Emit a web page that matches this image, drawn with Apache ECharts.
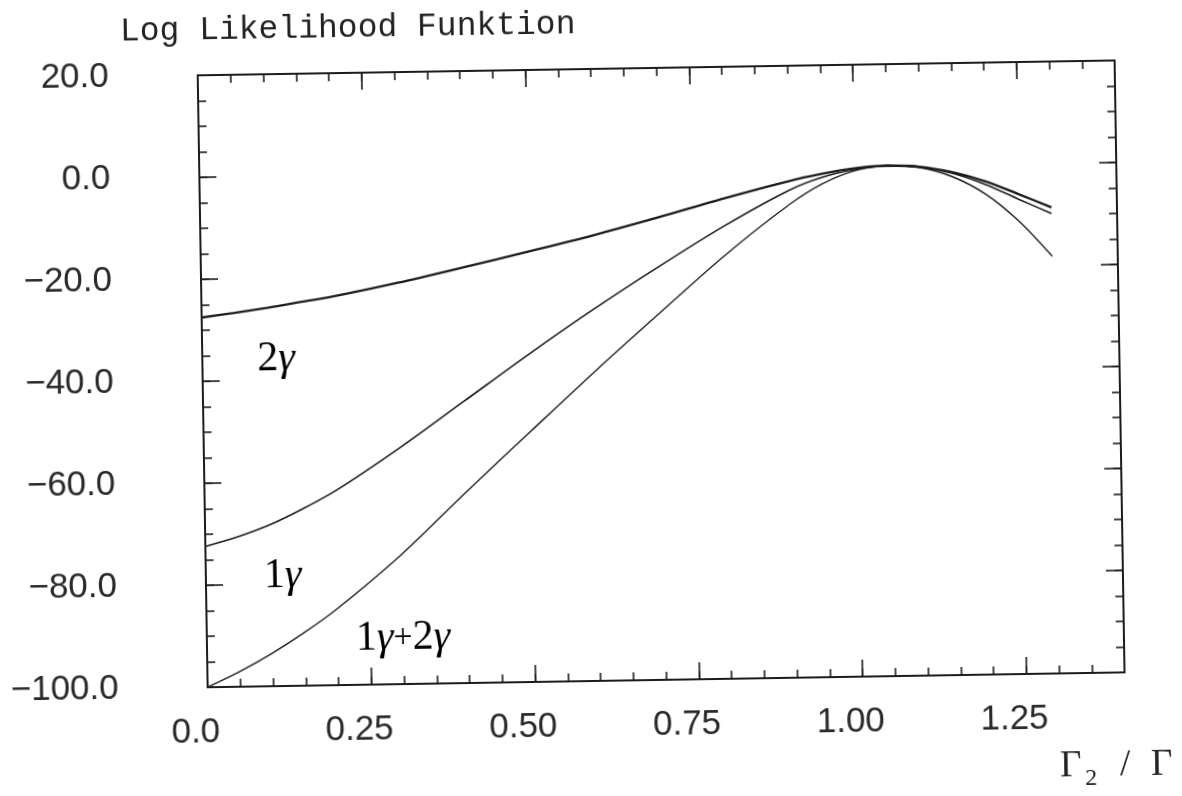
<!DOCTYPE html>
<html>
<head>
<meta charset="utf-8">
<script src="https://cdn.jsdelivr.net/npm/echarts@6/dist/echarts.min.js"></script>
<style>
html,body{margin:0;padding:0;background:#fff;overflow:hidden;}
#chart{width:1182px;height:796px;transform:rotate(-0.93deg);transform-origin:591px 398px;}
</style>
</head>
<body>
<div id="chart"></div>
<script>
// ---- data ----
const xValues = [0, 0.05, 0.1, 0.15, 0.2, 0.3, 0.4, 0.5, 0.6, 0.7, 0.8, 0.9, 0.95, 1.0, 1.05, 1.1, 1.15, 1.2, 1.25, 1.3];
const ll2gamma   = [-27.5, -26.7, -25.8, -24.8, -23.8, -21.3, -18.5, -15.6, -12.6, -9.3, -5.8, -2.6, -1.3, -0.3, 0.1, -0.2, -1.4, -3.3, -5.9, -8.6];
const ll1gamma   = [-72.4, -70.6, -68.3, -65.3, -61.9, -53.6, -44.6, -35.6, -27.0, -18.9, -11.2, -4.4, -2.0, -0.6, 0.1, -0.3, -1.6, -3.9, -6.9, -9.8];
const ll1p2gamma = [-100, -97.0, -93.5, -89.5, -85.0, -74.5, -62.5, -50.8, -39.2, -28.0, -17.0, -7.2, -3.3, -0.8, 0.1, -0.4, -2.3, -5.8, -11.2, -18.2];
const seriesNames = ['2γ', '1γ', '1γ+2γ'];
const xTickLabels = ['0.0', '0.25', '0.50', '0.75', '1.00', '1.25'];
const yTickLabels = ['\u2212100.0', '\u221280.0', '\u221260.0', '\u221240.0', '\u221220.0', '0.0', '20.0'];
const xMin = 0, xMax = 1.4, xMajor = 0.25, xMinor = 0.05;
const yMin = -100, yMax = 20, yMajor = 20, yMinor = 5;

// ---- chart ----
const chart = echarts.init(document.getElementById('chart'), null, {renderer: 'canvas'});
const ink = '#1c1c1c';
const labelFont = 'Liberation Sans';

function xLabel(v) {
  const k = Math.round(v / xMajor);
  if (Math.abs(v / xMajor - k) > 1e-6) return '';
  return xTickLabels[k] !== undefined ? xTickLabels[k] : '';
}
function yLabel(v) {
  const k = Math.round((v - yMin) / yMajor);
  return yTickLabels[k] !== undefined ? yTickLabels[k] : '';
}

function xAx(pos, interval, len, labels) {
  return {
    type: 'value', position: pos, min: xMin, max: xMax, interval: interval,
    axisLine: {show: true, onZero: false, lineStyle: {color: ink, width: 2}},
    axisTick: {show: true, inside: true, length: len, lineStyle: {color: ink, width: 1.6}},
    axisLabel: labels ? {show: true, formatter: xLabel, margin: 28, color: '#2a2a2a',
      fontFamily: labelFont, fontSize: 35, padding: [0, 25, 0, 0], showMaxLabel: false} : {show: false},
    splitLine: {show: false}
  };
}
function yAx(pos, interval, len, labels) {
  return {
    type: 'value', position: pos, min: yMin, max: yMax, interval: interval,
    axisLine: {show: true, onZero: false, lineStyle: {color: ink, width: 2}},
    axisTick: {show: true, inside: true, length: len, lineStyle: {color: ink, width: 1.6}},
    axisLabel: labels ? {show: true, formatter: yLabel, margin: 89, color: '#2a2a2a',
      fontFamily: labelFont, fontSize: 35} : {show: false},
    splitLine: {show: false}
  };
}

const values = [ll2gamma, ll1gamma, ll1p2gamma];
const widths = [2.3, 1.6, 1.4];

const serifRich = {
  n: {fontFamily: 'Liberation Serif', fontSize: 42, color: '#222'},
  p: {fontFamily: 'Liberation Serif', fontSize: 34, color: '#222'},
  g: {fontFamily: 'Liberation Serif', fontStyle: 'italic', fontSize: 42, color: '#222'}
};

const option = {
  backgroundColor: '#fff',
  animation: false,
  grid: {left: 203, right: 62, top: 69, bottom: 115, containLabel: false},
  xAxis: [
    xAx('bottom', xMajor, 17, true),
    xAx('bottom', xMinor, 8, false),
    xAx('top', xMajor, 17, false),
    xAx('top', xMinor, 8, false)
  ],
  yAxis: [
    yAx('left', yMajor, 17, true),
    yAx('left', yMinor, 8, false),
    yAx('right', yMajor, 17, false),
    yAx('right', yMinor, 8, false)
  ],
  series: values.map((arr, i) => ({
    name: seriesNames[i],
    type: 'line',
    xAxisIndex: 0, yAxisIndex: 0,
    smooth: 0.3,
    symbol: 'none',
    lineStyle: {color: ink, width: widths[i]},
    data: xValues.map((x, j) => [x, arr[j]]),
    z: 3
  })),
  graphic: [
    {type: 'text', left: 126, top: 8, style: {text: 'Log Likelihood Funktion', fill: '#222',
      font: '33px "Liberation Mono"'}},
    // curve labels
    {type: 'text', left: 258, top: 333, style: {text: '{n|2}{g|γ}', rich: serifRich}},
    {type: 'text', left: 261, top: 550, style: {text: '{n|1}{g|γ}', rich: serifRich}},
    {type: 'text', left: 352, top: 614, style: {text: '{n|1}{g|γ}{p|+}{n|2}{g|γ}', rich: serifRich}},
    // axis title Γ2 / Γ
    {type: 'text', left: 1054, top: 756, style: {text: 'Γ', fill: '#222', font: '37px "Liberation Serif"'}},
    {type: 'text', left: 1079, top: 775, style: {text: '2', fill: '#222', font: '24px "Liberation Serif"'}},
    {type: 'text', left: 1114, top: 756, style: {text: '/', fill: '#222', font: '37px "Liberation Serif"'}},
    {type: 'text', left: 1145, top: 756, style: {text: 'Γ', fill: '#222', font: '37px "Liberation Serif"'}}
  ]
};
chart.setOption(option);
</script>
</body>
</html>
